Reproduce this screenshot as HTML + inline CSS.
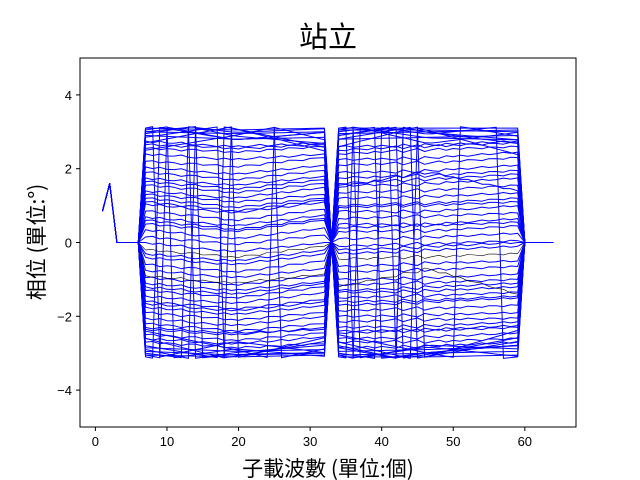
<!DOCTYPE html>
<html><head><meta charset="utf-8">
<style>
html,body{margin:0;padding:0;background:#fff;}
svg{display:block;font-family:"Liberation Sans","Noto Sans CJK TC",sans-serif;}
</style></head>
<body>
<svg id="chart" width="640" height="480" viewBox="0 0 640 480" xmlns="http://www.w3.org/2000/svg">
<rect x="0" y="0" width="640" height="480" fill="#fff"/>
<text x="328" y="47" font-size="29" text-anchor="middle" font-family="'Noto Sans CJK TC',sans-serif">站立</text>
<g id="plot"></g>
<rect x="80" y="58" width="496" height="369" fill="none" stroke="#000" stroke-width="1"/>
<g id="xticks"></g>
<g id="yticks"></g>
<text x="328" y="476" font-size="21" text-anchor="middle" font-family="'Noto Sans CJK TC',sans-serif">子載波數 (單位:個)</text>
<text transform="translate(44,242) rotate(-90)" font-size="21" text-anchor="middle" font-family="'Noto Sans CJK TC',sans-serif">相位 (單位:°)</text>
</svg>
<script>
const subcarriers = Array.from({length:64},(_,i)=>i+1);
const xTicks = [0,10,20,30,40,50,60];
const yTicks = [-4,-2,0,2,4];
const headValues = [0.85,1.6,0,0,0,0];
const leftRipple = [0,0.03,-0.02,0.02,0.01,-0.03,0.02,0.03,-0.01,0.01,0.03,-0.02,0.01,-0.02,0.02,0.0,-0.03,0.02,0.01,-0.02,0.03,0.01,-0.02,0.02,0.01,0];
const rightRipple = [0,-0.02,0.03,0.01,-0.02,0.03,-0.01,0.02,0.05,-0.03,0.02,0.06,-0.03,0.01,0.04,-0.02,0.02,-0.01,0.03,0.01,-0.02,0.02,0.01,-0.02,0.02,0];
const leftAnchors = [
[3.1,3.05,3.1],[3.0,2.95,3.0],[2.9,2.8,2.85],[2.75,2.6,2.7],[2.55,2.45,2.6],[2.4,2.25,2.4],
[2.2,2.05,2.3],[2.05,1.85,2.1],[1.9,1.7,1.95],[1.75,1.55,1.8],[1.55,1.35,1.6],[1.4,1.2,1.5],
[1.2,0.95,1.2],[1.05,0.8,1.1],[0.85,0.6,0.9],[0.7,0.45,0.75],[0.5,0.3,0.6],[0.35,0.1,0.4],
[0.15,-0.05,0.2],[0.0,-0.25,0.0],[-0.2,-0.4,-0.1],[-0.4,-0.6,-0.3],[-0.6,-0.8,-0.5],[-0.75,-0.95,-0.7],
[-0.95,-1.15,-0.9],[-1.1,-1.3,-1.05],[-1.3,-1.5,-1.2],[-1.45,-1.65,-1.35],[-1.6,-1.8,-1.55],[-1.75,-1.95,-1.7],
[-1.9,-2.1,-1.9],[-2.05,-2.25,-2.0],[-2.2,-2.4,-2.2],[-2.35,-2.5,-2.3],[-2.5,-2.65,-2.45],[-2.6,-2.75,-2.55],
[-2.7,-2.85,-2.75],[-2.85,-2.95,-2.9],[-2.95,-3.05,-3.0],[-3.05,-3.1,-3.05],[2.95,3.3,3.5],[-2.9,-3.4,-3.6],
[2.5,2.9,3.4],[-2.4,-2.9,-3.5],[1.3,1.1,1.3],[-0.9,-1.1,-0.85],
[3.0,3.25,3.3],[3.05,3.4,3.2],[2.85,3.2,3.6],[3.1,3.6,3.3],[-3.0,-3.3,-3.2],[-3.05,-3.5,-3.3],
[-2.8,-3.2,-3.7],[-3.1,-3.5,-3.3],[2.7,3.15,3.7],[-2.6,-3.2,-3.8],[2.65,2.55,2.65],[-2.3,-2.45,-2.35],
[1.1,0.85,1.15],[-0.3,-0.5,-0.2],[0.6,0.35,0.65],[-1.2,-1.4,-1.1],[1.65,1.45,1.7],[-1.65,-1.85,-1.6]
];
const rightAnchors = [
[3.1,3.1,3.1],[2.95,3.0,3.05],[2.8,2.85,2.9],[2.6,2.65,2.75],[2.4,2.5,2.6],[2.25,2.3,2.45],
[2.1,2.15,2.3],[1.9,1.95,2.1],[1.75,1.8,1.95],[1.55,1.6,1.75],[1.35,1.4,1.55],[1.2,1.25,1.35],
[1.0,1.05,1.2],[0.85,0.85,1.0],[0.65,0.7,0.8],[0.5,0.5,0.65],[0.3,0.3,0.45],[0.1,0.15,0.25],
[-0.1,-0.05,0.05],[-0.3,-0.2,-0.1],[-0.45,-0.4,-0.3],[-0.65,-0.55,-0.5],[-0.8,-0.75,-0.65],[-1.0,-0.95,-0.85],
[-1.15,-1.1,-1.0],[-1.35,-1.3,-1.2],[-1.5,-1.45,-1.35],[-1.7,-1.6,-1.5],[-1.85,-1.8,-1.7],[-2.0,-1.95,-1.9],
[-2.15,-2.1,-2.05],[-2.3,-2.25,-2.15],[-2.45,-2.4,-2.3],[-2.6,-2.55,-2.45],[-2.7,-2.7,-2.6],[-2.85,-2.8,-2.7],
[-2.95,-2.9,-2.8],[-3.05,-3.0,-2.95],[-3.1,-3.1,-3.05],[3.05,3.05,3.0],[2.9,3.3,3.5],[-2.8,-3.3,-3.5],
[2.6,3.2,3.6],[-2.5,-3.0,-3.4],[1.5,1.9,1.4],[-1.2,-0.7,-1.4],
[3.0,3.3,3.5],[3.1,3.45,3.2],[2.9,3.25,3.7],[3.05,3.5,3.4],[-3.0,-3.35,-3.1],[-3.1,-3.45,-3.5],
[-2.85,-3.3,-3.6],[-3.05,-3.6,-3.3],[2.8,3.2,3.9],[-2.7,-3.25,-3.9],[2.5,2.6,2.7],[-2.4,-2.35,-2.25],
[0.95,1.0,1.1],[-0.2,-0.1,0.0],[0.4,0.45,0.55],[-1.3,-1.2,-1.1],[1.6,1.7,1.85],[-1.6,-1.55,-1.45]
];
const x0=80,x1=576,xmin=-2.15,xmax=67.15,y0=58,y1=427,ymin=-5,ymax=5;
function xs(v){return x0+(v-xmin)/(xmax-xmin)*(x1-x0);}
function ys(v){return y0+(ymax-v)/(ymax-ymin)*(y1-y0);}
function wrap(v){while(v>Math.PI)v-=2*Math.PI;while(v<-Math.PI)v+=2*Math.PI;return v;}
function interp(a,s,e,k){
  const m=(s+e)/2;
  if(k<=m) return a[0]+(a[1]-a[0])*(k-s)/(m-s);
  return a[1]+(a[2]-a[1])*(k-m)/(e-m);
}
function nearPi(a){return a.some(v=>Math.abs(v)>2.88);}
const NS='http://www.w3.org/2000/svg';
const plot=document.getElementById('plot');
for(let i=0;i<leftAnchors.length;i++){
  const vals=[];
  const sgn = (i%2===0)?1:-1;
  const lr = nearPi(leftAnchors[i])?0:sgn;
  const rr = nearPi(rightAnchors[i])?0:sgn;
  for(const k of subcarriers){
    let v;
    if(k<=6) v=headValues[k-1];
    else if(k<=32) v=wrap(interp(leftAnchors[i],7,32,k)+lr*leftRipple[k-7]);
    else if(k===33) v=0;
    else if(k<=59) v=wrap(interp(rightAnchors[i],34,59,k)+rr*rightRipple[k-34]);
    else v=0;
    vals.push(v);
  }
  const pts=subcarriers.map((k,j)=>xs(k).toFixed(1)+','+ys(vals[j]).toFixed(1)).join(' ');
  const pl=document.createElementNS(NS,'polyline');
  pl.setAttribute('points',pts);
  pl.setAttribute('fill','none');
  const dark = i===20 || i===45;
  pl.setAttribute('stroke',dark?'#000':'#0000ff');
  pl.setAttribute('stroke-width',dark?'0.6':'1');
  pl.setAttribute('stroke-linejoin','round');
  
  
  plot.appendChild(pl);
}
const xt=document.getElementById('xticks');
for(const t of xTicks){
  const X=xs(t);
  const l=document.createElementNS(NS,'line');
  l.setAttribute('x1',X);l.setAttribute('x2',X);l.setAttribute('y1',427);l.setAttribute('y2',431);
  l.setAttribute('stroke','#000');
  
  
  xt.appendChild(l);
  const tx=document.createElementNS(NS,'text');
  tx.setAttribute('x',X);tx.setAttribute('y',446);tx.setAttribute('font-size','13');tx.setAttribute('text-anchor','middle');
  tx.textContent=t;
  
  
  xt.appendChild(tx);
}
const yt=document.getElementById('yticks');
for(const t of yTicks){
  const Y=ys(t);
  const l=document.createElementNS(NS,'line');
  l.setAttribute('x1',76);l.setAttribute('x2',80);l.setAttribute('y1',Y);l.setAttribute('y2',Y);
  l.setAttribute('stroke','#000');
  
  
  yt.appendChild(l);
  const tx=document.createElementNS(NS,'text');
  tx.setAttribute('x',72);tx.setAttribute('y',Y+5);tx.setAttribute('font-size','13');tx.setAttribute('text-anchor','end');
  tx.textContent=(t<0?'\u2212'+(-t):t);
  
  
  yt.appendChild(tx);
}
</script>
</body></html>
